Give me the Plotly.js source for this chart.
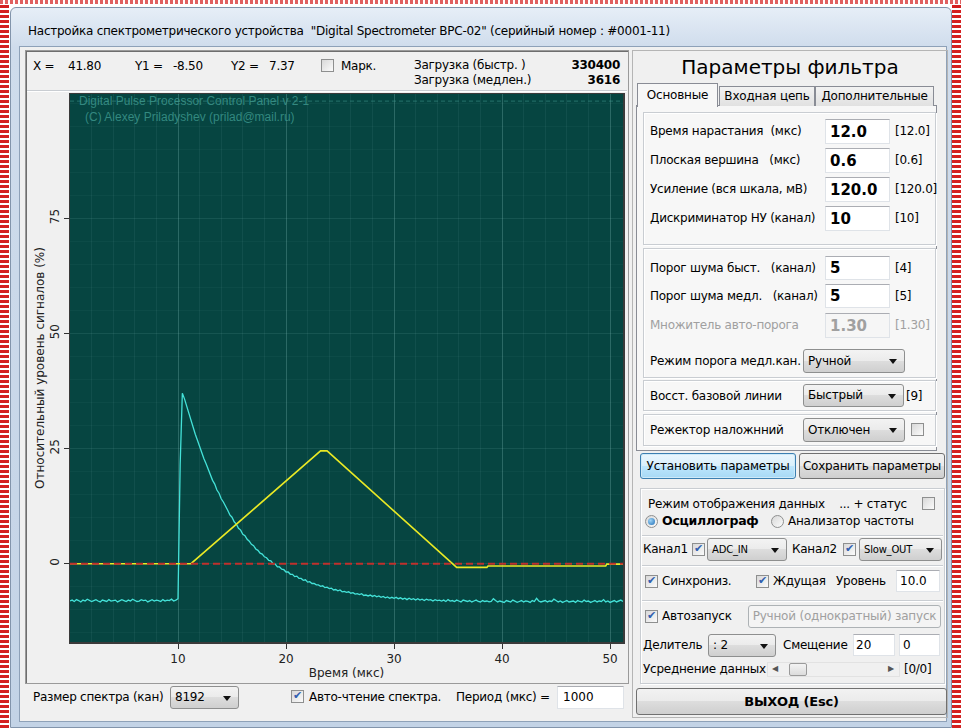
<!DOCTYPE html>
<html><head><meta charset="utf-8">
<script src="https://cdn.plot.ly/plotly-3.0.1.min.js"></script>
<style>
html,body{margin:0;padding:0}
body{width:961px;height:728px;overflow:hidden;position:relative;background:#fff;font-family:"DejaVu Sans",sans-serif;font-size:12px;color:#000}
div{box-sizing:border-box}
.t{position:absolute;white-space:pre;line-height:14px;letter-spacing:-0.25px}
.b{font-weight:bold}
.g{color:#a0a0a0}
.grp{position:absolute;border:1px solid #c9cdd2;box-shadow:inset 1px 1px 0 #fff,1px 1px 0 #fff}
.inp{position:absolute;background:#fff;border:1px solid #dfe3e8;border-top-color:#abadb3;padding-left:5px;white-space:pre}
.inpb{font-weight:bold;font-size:15px;padding-left:4px}
.cmb{position:absolute;border:1px solid #8e8f8f;border-radius:3px;background:linear-gradient(#f3f3f3,#ebebeb 49%,#dddddd 50%,#cfcfcf);padding-left:4px;white-space:pre;letter-spacing:-0.2px}
.cmb:after{content:"";position:absolute;right:7px;top:50%;margin-top:-2px;border-left:4px solid transparent;border-right:4px solid transparent;border-top:5px solid #111}
.btn{position:absolute;border:1px solid #707070;border-radius:3px;background:linear-gradient(#f2f2f2,#ebebeb 49%,#dddddd 50%,#cfcfcf);text-align:center;white-space:pre;letter-spacing:-0.2px}
.chk{position:absolute;width:13px;height:13px;border:1px solid #8e8f8f;background:linear-gradient(135deg,#d8d8d8,#fbfbfb)}
.chk.on:after{content:"✔";position:absolute;left:1px;top:-2px;font-size:11px;color:#3160b0}
.rad{position:absolute;width:13px;height:13px;border:1px solid #8e8f8f;border-radius:50%;background:linear-gradient(135deg,#d8d8d8,#fbfbfb)}
.rad.on:after{content:"";position:absolute;left:2px;top:2px;width:7px;height:7px;border-radius:50%;background:radial-gradient(circle at 35% 35%,#9fd3f5,#1f6fb8)}
.hl{position:absolute;height:1px;background:#c9cdd2;box-shadow:0 1px 0 #fff}
</style>
</head>
<body>
<!-- marquee edges -->
<div style="position:absolute;left:0;top:0;width:9px;height:728px;background:repeating-linear-gradient(0deg,#d42020 0 3px,#fff 3px 5px)"></div>
<div style="position:absolute;left:952px;top:0;width:9px;height:728px;background:repeating-linear-gradient(0deg,#d42020 0 3px,#fff 3px 5px)"></div>
<div style="position:absolute;left:0;top:0;width:961px;height:4px;background:repeating-linear-gradient(90deg,#e06060 0 3px,#fff 3px 5px)"></div>

<!-- window frame -->
<div style="position:absolute;left:10px;top:7px;width:942px;height:721px;background:linear-gradient(#e6eef7,#cfdcec 40px,#c3d3e6);border:1px solid #8294ab;border-radius:6px 6px 0 0"></div>
<div class="t" style="left:28px;top:24px">Настройка спектрометрического устройства  "Digital Spectrometer BPC-02" (серийный номер : #0001-11)</div>

<!-- client area -->
<div style="position:absolute;left:19px;top:46px;width:928px;height:676px;background:#f0f0f0;border:1px solid #8ea1b8"></div>

<!-- left panel -->
<div style="position:absolute;left:25px;top:50px;width:604px;height:634px;border:1px solid #9a9a9a;box-shadow:inset 1px 1px 0 #6e6e6e"></div>
<div class="t" style="left:33px;top:59px">X =</div>
<div class="t" style="left:68px;top:59px">41.80</div>
<div class="t" style="left:135px;top:59px">Y1 =</div>
<div class="t" style="left:173px;top:59px">-8.50</div>
<div class="t" style="left:231px;top:59px">Y2 =</div>
<div class="t" style="left:269px;top:59px">7.37</div>
<div class="chk" style="left:321px;top:59px"></div>
<div class="t" style="left:341px;top:59px">Марк.</div>
<div class="t" style="left:414px;top:58px">Загрузка (быстр. )</div>
<div class="t b" style="left:540px;top:58px;width:80px;text-align:right">330400</div>
<div class="t" style="left:414px;top:73px">Загрузка (медлен.)</div>
<div class="t b" style="left:540px;top:73px;width:80px;text-align:right">3616</div>
<div class="hl" style="left:27px;top:90px;width:600px"></div>

<div id="plot" style="position:absolute;left:27px;top:92px;width:600px;height:590px"></div>

<!-- bottom strip -->
<div class="t" style="left:33px;top:690px">Размер спектра (кан)</div>
<div class="cmb" style="left:170px;top:686px;width:69px;height:23px;line-height:21px">8192</div>
<div class="chk on" style="left:291px;top:690px"></div>
<div class="t" style="left:309px;top:690px">Авто-чтение спектра.</div>
<div class="t" style="left:456px;top:690px">Период (мкс) =</div>
<div class="inp" style="left:557px;top:686px;width:67px;height:23px;line-height:21px">1000</div>

<!-- right panel -->
<div style="position:absolute;left:632px;top:50px;width:316px;height:668px;border:1px solid #b5b5b5"></div>
<div class="t" style="left:632px;top:55px;width:316px;text-align:center;font-size:20px;line-height:24px;letter-spacing:0">Параметры фильтра</div>

<div style="position:absolute;left:636px;top:105px;width:301px;height:346px;border:1px solid #898c95;background:#f7f7f7"></div>
<div style="position:absolute;left:637px;top:83px;width:81px;height:24px;border:1px solid #898c95;border-bottom:none;background:#f7f7f7;text-align:center;line-height:22px;letter-spacing:-0.2px">Основные</div>
<div style="position:absolute;left:719px;top:86px;width:96px;height:20px;border:1px solid #898c95;border-bottom:none;background:linear-gradient(#f2f2f2,#e1e1e1);text-align:center;line-height:19px;letter-spacing:-0.2px">Входная цепь</div>
<div style="position:absolute;left:815px;top:86px;width:119px;height:20px;border:1px solid #898c95;border-bottom:none;background:linear-gradient(#f2f2f2,#e1e1e1);text-align:center;line-height:19px;letter-spacing:-0.2px">Дополнительные</div>

<div class="grp" style="left:643px;top:112px;width:293px;height:133px"></div>
<div class="t" style="left:650px;top:124px">Время нарастания  (мкс)</div>
<div class="inp inpb" style="left:825px;top:119px;width:65px;height:25px;line-height:24px">12.0</div>
<div class="t" style="left:895px;top:124px">[12.0]</div>
<div class="t" style="left:650px;top:153px">Плоская вершина   (мкс)</div>
<div class="inp inpb" style="left:825px;top:148px;width:65px;height:25px;line-height:24px">0.6</div>
<div class="t" style="left:895px;top:153px">[0.6]</div>
<div class="t" style="left:650px;top:182px">Усиление (вся шкала, мВ)</div>
<div class="inp inpb" style="left:825px;top:177px;width:65px;height:25px;line-height:24px">120.0</div>
<div class="t" style="left:895px;top:182px">[120.0]</div>
<div class="t" style="left:650px;top:211px">Дискриминатор НУ (канал)</div>
<div class="inp inpb" style="left:825px;top:206px;width:65px;height:25px;line-height:24px">10</div>
<div class="t" style="left:895px;top:211px">[10]</div>

<div class="grp" style="left:643px;top:248px;width:293px;height:130px"></div>
<div class="t" style="left:650px;top:261px">Порог шума быст.   (канал)</div>
<div class="inp inpb" style="left:825px;top:256px;width:65px;height:24px;line-height:23px">5</div>
<div class="t" style="left:895px;top:261px">[4]</div>
<div class="t" style="left:650px;top:289px">Порог шума медл.   (канал)</div>
<div class="inp inpb" style="left:825px;top:284px;width:65px;height:24px;line-height:23px">5</div>
<div class="t" style="left:895px;top:289px">[5]</div>
<div class="t g" style="left:650px;top:318px">Множитель авто-порога</div>
<div class="inp inpb g" style="left:825px;top:313px;width:65px;height:25px;line-height:24px;background:#f6f6f6">1.30</div>
<div class="t g" style="left:895px;top:318px">[1.30]</div>
<div class="t" style="left:650px;top:354px">Режим порога медл.кан.</div>
<div class="cmb" style="left:803px;top:349px;width:102px;height:24px;line-height:22px">Ручной</div>

<div class="grp" style="left:643px;top:380px;width:293px;height:31px"></div>
<div class="t" style="left:650px;top:389px">Восст. базовой линии</div>
<div class="cmb" style="left:803px;top:384px;width:101px;height:23px;line-height:21px">Быстрый</div>
<div class="t" style="left:906px;top:389px">[9]</div>

<div class="grp" style="left:643px;top:414px;width:293px;height:32px"></div>
<div class="t" style="left:650px;top:423px">Режектор наложнний</div>
<div class="cmb" style="left:803px;top:418px;width:102px;height:24px;line-height:22px">Отключен</div>
<div class="chk" style="left:911px;top:423px"></div>

<div class="btn" style="left:640px;top:453px;width:156px;height:26px;line-height:24px;border-color:#3c7fb1;background:linear-gradient(#eaf6fd,#d9f0fc 49%,#bee6fd 50%,#a7d9f5);box-shadow:inset 0 0 0 1px #cfeaf9">Установить параметры</div>
<div class="btn" style="left:799px;top:453px;width:146px;height:26px;line-height:24px">Сохранить параметры</div>

<div class="grp" style="left:640px;top:488px;width:305px;height:196px"></div>
<div class="hl" style="left:642px;top:535px;width:301px"></div>
<div class="hl" style="left:642px;top:565px;width:301px"></div>
<div class="hl" style="left:642px;top:600px;width:301px"></div>
<div class="t" style="left:648px;top:497px">Режим отображения данных    ... + статус</div>
<div class="chk" style="left:922px;top:497px"></div>
<div class="rad on" style="left:645px;top:515px"></div>
<div class="t b" style="left:662px;top:514px;font-size:12.5px">Осциллограф</div>
<div class="rad" style="left:771px;top:515px"></div>
<div class="t" style="left:788px;top:514px">Анализатор частоты</div>

<div class="t" style="left:643px;top:542px">Канал1</div>
<div class="chk on" style="left:692px;top:543px"></div>
<div class="cmb" style="left:707px;top:538px;width:80px;height:23px;line-height:21px;font-size:10px">ADC_IN</div>
<div class="t" style="left:792px;top:542px">Канал2</div>
<div class="chk on" style="left:843px;top:543px"></div>
<div class="cmb" style="left:859px;top:538px;width:83px;height:23px;line-height:21px;font-size:10px">Slow_OUT</div>

<div class="chk on" style="left:645px;top:575px"></div>
<div class="t" style="left:662px;top:574px">Синхрониз.</div>
<div class="chk on" style="left:756px;top:575px"></div>
<div class="t" style="left:773px;top:574px">Ждущая</div>
<div class="t" style="left:836px;top:574px">Уровень</div>
<div class="inp" style="left:896px;top:570px;width:44px;height:22px;line-height:20px;padding-left:3px">10.0</div>

<div class="chk on" style="left:645px;top:610px"></div>
<div class="t" style="left:662px;top:609px">Автозапуск</div>
<div class="btn g" style="left:748px;top:605px;width:193px;height:23px;line-height:21px;border-color:#adb2b5;background:#f4f4f4">Ручной (однократный) запуск</div>

<div class="t" style="left:643px;top:638px">Делитель</div>
<div class="cmb" style="left:708px;top:634px;width:68px;height:23px;line-height:21px">: 2</div>
<div class="t" style="left:783px;top:638px">Смещение</div>
<div class="inp" style="left:853px;top:634px;width:42px;height:22px;line-height:20px;padding-left:2px">20</div>
<div class="inp" style="left:899px;top:634px;width:41px;height:22px;line-height:20px;padding-left:3px">0</div>

<div class="t" style="left:643px;top:662px">Усреднение данных</div>
<div style="position:absolute;left:767px;top:662px;width:133px;height:15px;background:#f0f0f0;border:1px solid #e2e2e2"></div>
<div class="t" style="left:772px;top:663px;font-size:8px;line-height:12px;color:#555">◀</div>
<div style="position:absolute;left:789px;top:663px;width:18px;height:13px;border:1px solid #9a9a9a;border-radius:2px;background:linear-gradient(#f3f3f3,#dcdcdc)"></div>
<div class="t" style="left:888px;top:663px;font-size:8px;line-height:12px;color:#555">▶</div>
<div class="t" style="left:904px;top:662px">[0/0]</div>

<div class="btn b" style="left:636px;top:688px;width:311px;height:27px;line-height:25px;font-size:13px">ВЫХОД (Esc)</div>

<script>
// ---- chart data ----
// Channel 1: ADC_IN, sampled every 0.2 µs starting at 0 µs
var adcStartUs = 0;
var adcStepUs = 0.2;
var adcInPercent = [
 -8.1,-7.9,-8.2,-7.8,-8.0,-8.3,-7.9,-8.1,-7.7,-8.0,
 -8.2,-8.0,-7.8,-8.1,-8.3,-7.9,-8.0,-8.2,-7.8,-8.1,
 -8.0,-7.9,-8.3,-8.1,-7.8,-8.0,-8.2,-7.9,-8.1,-7.7,
 -8.0,-8.2,-8.1,-7.8,-8.0,-7.9,-8.3,-8.0,-7.8,-8.1,
 -7.9,-8.0,-8.2,-7.8,-8.1,-7.9,-8.0,-7.7,-8.1,-7.9,
 -7.6,21.5,37.0,
 35.8,34.2,32.6,31.0,29.6,28.1,26.8,25.3,24.2,22.8,
 21.7,20.4,19.4,18.1,17.3,16.0,15.3,14.1,13.4,12.3,
 11.6,10.6,10.1,9.1,8.6,7.7,7.3,6.4,6.1,5.3,
 4.9,4.2,3.9,3.2,2.9,2.3,2.1,1.5,1.3,0.7,
 0.6,0.0,-0.1,-0.7,-0.7,-1.2,-1.3,-1.8,-1.8,-2.3,
 -2.3,-2.8,-2.7,-3.2,-3.2,-3.6,-3.5,-4.0,-3.9,-4.3,
 -4.3,-4.6,-4.6,-4.9,-4.8,-5.2,-5.1,-5.4,-5.3,-5.7,
 -5.6,-5.9,-5.7,-6.1,-6.0,-6.2,-6.1,-6.4,-6.3,-6.6,
 -6.5,-6.7,-6.5,-6.9,-6.8,-7.0,-6.8,-7.1,-6.9,-7.2,
 -7.0,-7.3,-7.1,-7.4,-7.2,-7.5,-7.3,-7.5,-7.3,-7.6,
 -7.4,-7.7,-7.5,-7.8,-7.5,-7.8,-7.6,-7.9,-7.6,-7.9,
 -7.7,-8.0,-7.7,-7.9,-7.8,-8.1,-7.8,-8.0,-7.9,-8.1,
 -7.9,-8.2,-7.8,-8.1,-8.0,-8.2,-7.9,-8.1,-8.3,-7.9,
 -8.1,-8.2,-8.0,-8.3,-8.1,-7.9,-8.2,-8.3,-8.0,-8.2,
 -8.1,-8.3,-8.2,-7.6,-8.0,-8.3,-8.1,-8.2,-8.4,-8.0,
 -8.2,-8.3,-7.9,-8.1,-8.4,-8.2,-8.0,-8.3,-8.1,-8.2,
 -8.4,-8.0,-8.2,-7.5,-8.1,-8.3,-8.2,-8.0,-8.3,-8.1,
 -8.2,-7.7,-8.0,-8.3,-8.1,-8.4,-8.2,-8.0,-8.3,-8.2,
 -8.1,-8.4,-8.0,-8.2,-8.3,-7.9,-8.2,-8.1,-8.4,-8.2,
 -8.0,-8.3,-8.1,-8.2,-7.8,-8.3,-8.1,-8.4,-8.2,-8.0,
 -8.3,-8.1,-7.9,-8.2
];
// Channel 2: Slow_OUT (trapezoid filter output), vertices
var slowOutUs = [0, 11.2, 23.2, 23.8, 35.8, 38.6, 38.7, 49.6, 49.7, 51.2];
var slowOutPercent = [0, 0, 24.5, 24.5, -0.8, -0.8, -0.5, -0.5, -0.1, -0.1];
// Trigger / threshold level
var thresholdUs = [0, 51.2];
var thresholdPercent = [0, 0];
// Axis ticks
var xTickValues = [10, 20, 30, 40, 50];
var yTickValues = [0, 25, 50, 75];

var adcTimeUs = adcInPercent.map(function (v, i) { return +(adcStartUs + i * adcStepUs).toFixed(2); });

var traces = [
  {x: adcTimeUs, y: adcInPercent, type: 'scatter', mode: 'lines', name: 'ADC_IN',
   line: {color: '#44e2d8', width: 1.3}},
  {x: slowOutUs, y: slowOutPercent, type: 'scatter', mode: 'lines', name: 'Slow_OUT',
   line: {color: '#e9e925', width: 1.6}},
  {x: thresholdUs, y: thresholdPercent, type: 'scatter', mode: 'lines', name: 'Порог',
   line: {color: '#c0302c', width: 2, dash: '7px,4px'}}
];

var gridMaj = 'rgba(120,180,175,0.26)';
var gridMin = 'rgba(120,180,175,0.10)';
var layout = {
  width: 600, height: 590,
  margin: {l: 43, r: 4, t: 2, b: 40},
  paper_bgcolor: '#f0f0f0',
  plot_bgcolor: '#064541',
  showlegend: false,
  hovermode: false,
  font: {family: 'DejaVu Sans, sans-serif', size: 12, color: '#222'},
  xaxis: {
    range: [0, 51.2], tickmode: 'array', tickvals: xTickValues,
    ticks: 'outside', ticklen: 5, tickcolor: '#333',
    showline: true, mirror: true, linecolor: '#3a3a3a', linewidth: 1.5,
    showgrid: true, gridcolor: gridMaj, zeroline: false,
    minor: {tickmode: 'linear', tick0: 0, dtick: 2, showgrid: true, gridcolor: gridMin, ticks: ''},
    tickfont: {size: 12, color: '#222'},
    title: {text: 'Время (мкс)', standoff: 3, font: {size: 12, color: '#222'}}
  },
  yaxis: {
    range: [-17, 102], tickmode: 'array', tickvals: yTickValues, tickangle: -90,
    ticks: 'outside', ticklen: 5, tickcolor: '#333',
    showline: true, mirror: true, linecolor: '#3a3a3a', linewidth: 1.5,
    showgrid: true, gridcolor: gridMin, zeroline: false,
    minor: {tickmode: 'linear', tick0: 0, dtick: 5, showgrid: true, gridcolor: 'rgba(120,180,175,0.06)', ticks: ''},
    tickfont: {size: 12, color: '#222'},
    title: {text: 'Относительный уровень сигналов (%)', standoff: 0, font: {size: 12, color: '#222'}}
  },
  shapes: [
    {type: 'line', xref: 'paper', yref: 'paper', x0: 0, x1: 1, y0: 0.987, y1: 0.987,
     line: {color: 'rgba(70,160,150,0.5)', width: 1, dash: '4px,3px'}}
  ],
  annotations: [
    {xref: 'paper', yref: 'paper', x: 0.012, y: 0.987, xanchor: 'left', yanchor: 'middle', showarrow: false,
     text: 'Digital Pulse Processor Control Panel v 2-1',
     font: {family: 'Liberation Sans, sans-serif', size: 12, color: 'rgba(60,150,140,0.85)'}},
    {xref: 'paper', yref: 'paper', x: 0.024, y: 0.958, xanchor: 'left', yanchor: 'middle', showarrow: false,
     text: '(C) Alexey Priladyshev (prilad@mail.ru)',
     font: {family: 'Liberation Sans, sans-serif', size: 12, color: 'rgba(60,150,140,0.85)'}}
  ]
};

Plotly.newPlot('plot', traces, layout, {displayModeBar: false, staticPlot: true});
</script>
</body></html>
